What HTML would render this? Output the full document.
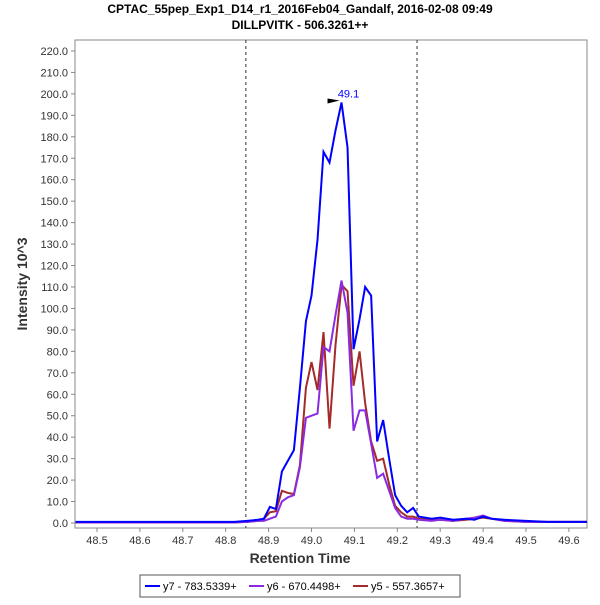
<!DOCTYPE html>
<html><head><meta charset="utf-8"><style>
body{margin:0;background:#fff;font-family:"Liberation Sans",sans-serif}
svg text{font-family:"Liberation Sans",sans-serif}
</style></head><body>
<svg id="c" width="600" height="600">
<defs><clipPath id="pc"><rect x="75" y="40" width="512" height="488"/></clipPath></defs>
<text x="300" y="13" text-anchor="middle" font-size="12" font-weight="bold">CPTAC_55pep_Exp1_D14_r1_2016Feb04_Gandalf, 2016-02-08 09:49</text>
<text x="300" y="29" text-anchor="middle" font-size="12" font-weight="bold">DILLPVITK - 506.3261++</text>
<rect x="75" y="40" width="512" height="488" fill="#fff" stroke="#888"/>
<g id="axes"></g><g id="marks" clip-path="url(#pc)"></g>
<text x="300" y="563" text-anchor="middle" font-size="14" font-weight="bold" fill="#333">Retention Time</text>
<text transform="translate(27,284) rotate(-90)" text-anchor="middle" font-size="14" font-weight="bold" fill="#333">Intensity 10^3</text>
<g>
<rect x="140" y="575" width="320" height="22" fill="#fff" stroke="#555"/>
<line x1="145" y1="586" x2="160" y2="586" stroke="#0000ff" stroke-width="2"/>
<text x="163" y="590" font-size="11">y7 - 783.5339+</text>
<line x1="249" y1="586" x2="264" y2="586" stroke="#8a2be2" stroke-width="2"/>
<text x="267" y="590" font-size="11">y6 - 670.4498+</text>
<line x1="353" y1="586" x2="368" y2="586" stroke="#a52a2a" stroke-width="2"/>
<text x="371" y="590" font-size="11">y5 - 557.3657+</text>
</g>
</svg>
<script>
const times=[48.45,48.6,48.75,48.82,48.85,48.875,48.889,48.903,48.917,48.931,48.945,48.959,48.973,48.987,49.000,49.014,49.028,49.042,49.056,49.070,49.084,49.098,49.112,49.125,49.139,49.153,49.167,49.181,49.195,49.209,49.223,49.237,49.25,49.28,49.3,49.33,49.36,49.38,49.4,49.42,49.45,49.5,49.55,49.65];
const y7=[0.5,0.5,0.5,0.5,1,1.5,2,7.5,6.5,24,29,34,63,94,106,132,173,168,183,196,175,81,95,110,106,38,48,30,13,8,5,7,3,2,2.5,1.5,2,1.5,3,2,1.5,1,0.5,0.5];
const y6=[0.3,0.3,0.3,0.3,0.5,1,1,2,3,10,12,13,26,49,50,51,82,80,97,113,98,43,52.5,52.5,37,21,23,15,7,3,2,2,1.5,1,1.5,1,2,2.5,3.5,2,1,0.5,0.5,0.5];
const y5=[0.3,0.3,0.3,0.3,0.5,1,2,5,5.5,15,14,13.5,27,63,75,62,89,44,83,111,108,64,80,56,38,29,30,18,8,5,3,3,2,1.5,1.5,1,1.5,2,2.5,2,1,0.5,0.5,0.5];
const xTicks=[48.5,48.6,48.7,48.8,48.9,49.0,49.1,49.2,49.3,49.4,49.5,49.6];
const yTicks=[0,10,20,30,40,50,60,70,80,90,100,110,120,130,140,150,160,170,180,190,200,210,220];
const bounds=[48.847,49.246];
const ns="http://www.w3.org/2000/svg";
const X=v=>97+(v-48.5)*429;
const Y=v=>523-v*2.1455;
function mk(t,a,p){const e=document.createElementNS(ns,t);for(const k in a)e.setAttribute(k,a[k]);p.appendChild(e);return e;}
const ax=document.getElementById('axes'),mg=document.getElementById('marks');
yTicks.forEach(v=>{mk('line',{x1:71,x2:75,y1:Y(v),y2:Y(v),stroke:'#888'},ax);
const t=mk('text',{x:68,y:Y(v)+4,'text-anchor':'end','font-size':11,fill:'#333'},ax);t.textContent=v.toFixed(1);

});
xTicks.forEach(v=>{mk('line',{x1:X(v),x2:X(v),y1:528,y2:532,stroke:'#888'},ax);
const t=mk('text',{x:X(v),y:544,'text-anchor':'middle','font-size':11,fill:'#333'},ax);t.textContent=v.toFixed(1);

});
bounds.forEach(v=>{const l=mk('line',{x1:X(v),x2:X(v),y1:40,y2:528,stroke:'#333','stroke-dasharray':'3,3'},mg);

});
[[y7,'#0000ff','series-y7'],[y6,'#8a2be2','series-y6'],[y5,'#a52a2a','series-y5']].slice().reverse().forEach(([d,c,n])=>{
const p=mk('polyline',{points:times.map((t,i)=>X(t)+','+Y(d[i])).join(' '),fill:'none',stroke:c,'stroke-width':2},mg);

});
let mi=0;y7.forEach((v,i)=>{if(v>y7[mi])mi=i;});
const px=X(times[mi]),py=Y(y7[mi]);
const ar=mk('path',{d:`M${px-14},${py-4} l12,2 l-12,3 z`,fill:'#000'},mg);


const pl=mk('text',{x:px+7,y:py-5,'text-anchor':'middle','font-size':11,fill:'#0000ff'},mg);pl.textContent=times[mi].toFixed(1);


</script>
</body></html>
